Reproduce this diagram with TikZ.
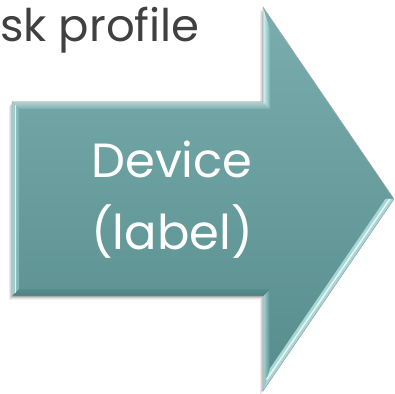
\documentclass[tikz,border=0pt]{standalone}
\usepackage{fontspec}
\setmainfont{Poppins}
\usetikzlibrary{calc}
\definecolor{arrowtop}{HTML}{7AAEAE}
\definecolor{arrowbot}{HTML}{578C8C}
\definecolor{bevelhi}{HTML}{D2F6F6}
\definecolor{bevellight}{HTML}{A6D6D6}
\definecolor{beveldark}{HTML}{4E8080}
\definecolor{titlegray}{HTML}{404040}

% outline of the big arrow
\newcommand{\arrowoutline}{(12,291) -- (263,291) -- (263,386) -- (394,194) -- (263,2) -- (263,97) -- (12,97) -- cycle}

\begin{document}
\begin{tikzpicture}[
    x=1pt, y=1pt,
    device_text/.style={text=white, align=center, inner sep=0pt, font=\fontsize{48}{72}\selectfont},
    title_text/.style={text=titlegray, inner sep=0pt, font=\fontsize{45}{56}\selectfont},
    highlight/.style={draw=white, line width=1.6pt, opacity=0.75}
]
\useasboundingbox (0,0) rectangle (395,393);

% Shadow
\foreach \i in {1,...,4}
  \fill[black, opacity=0.07, shift={(-0.7*\i,-0.9*\i)}] \arrowoutline;

% Arrow body
\shade[top color=arrowtop, bottom color=arrowbot] \arrowoutline;

% Outer corners
\coordinate (a) at (12,291);
\coordinate (b) at (263,291);
\coordinate (c) at (263,386);
\coordinate (d) at (394,194);
\coordinate (e) at (263,2);
\coordinate (f) at (263,97);
\coordinate (g) at (12,97);
% Inner corners
\coordinate (ai) at (19,284);
\coordinate (bi) at (270,284);
\coordinate (ci) at (270,363.3);
\coordinate (di) at (385.5,194);
\coordinate (ei) at (270,24.7);
\coordinate (fi) at (270,104);
\coordinate (gi) at (19,104);

% Bevel
\shade[left color=bevellight, right color=arrowtop] (a) -- (g) -- (gi) -- (ai) -- cycle;
\shade[top color=arrowtop!55!white, bottom color=arrowtop] (a) -- (b) -- (bi) -- (ai) -- cycle;
\shade[left color=bevelhi, right color=arrowtop] (b) -- (c) -- (ci) -- (bi) -- cycle;
\shade[left color=bevellight, right color=arrowbot] (e) -- (f) -- (fi) -- (ei) -- cycle;
\fill[bevellight] (d) -- (e) -- (ei) -- (di) -- cycle;
\shade[top color=arrowbot, bottom color=beveldark] (f) -- (g) -- (gi) -- (fi) -- cycle;
\draw[highlight] ($(d)!0.5!(di)$) -- ($(e)!0.5!(ei)$);
\draw[highlight, line width=1.2pt] ($(a)!0.5!(ai)$) -- ($(g)!0.5!(gi)$);
\draw[gray!70, line width=0.5pt] \arrowoutline;

% Labels
\node[device_text] (device) at (172,193) {Device\\(label)};
\node[title_text, anchor=base west] (profile) at (0,351) {sk profile};

\end{tikzpicture}
\end{document}
